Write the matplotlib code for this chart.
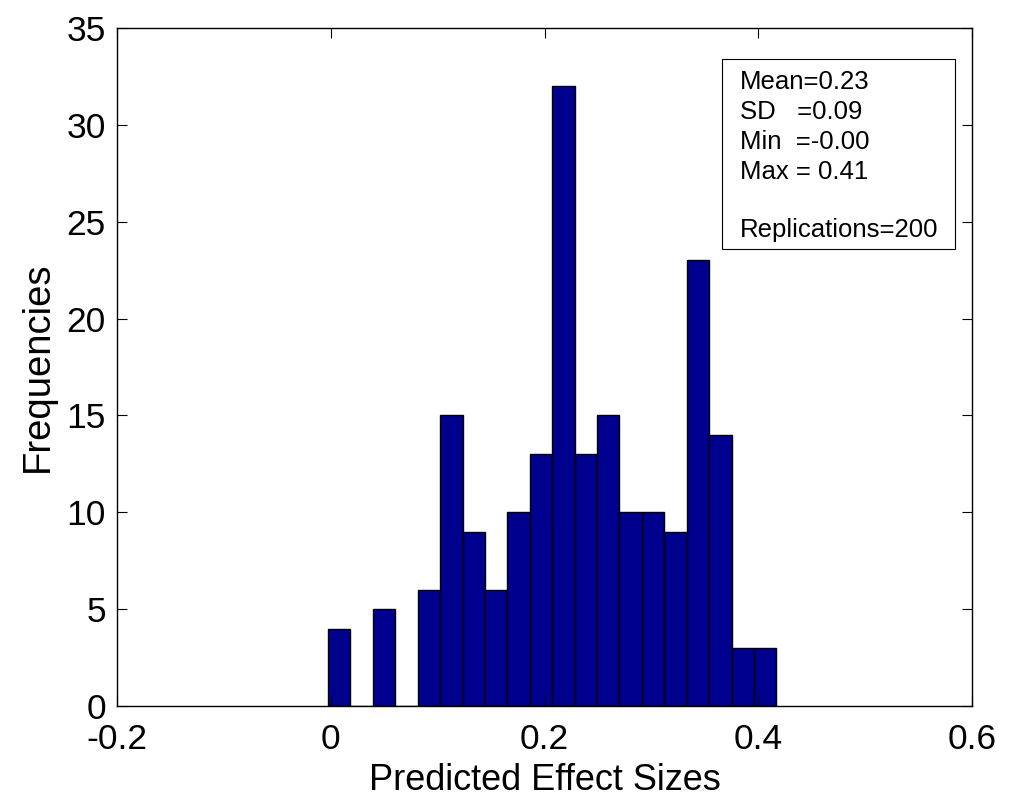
import numpy as np
import matplotlib.pyplot as plt
from matplotlib.patches import Rectangle

plt.rcParams['font.family'] = ['Liberation Sans', 'DejaVu Sans']

# histogram counts (20 bins)
counts = [4, 0, 5, 0, 6, 15, 9, 6, 10, 13, 32, 13, 15, 10, 10, 9, 23, 14, 3, 3]
bin_lo = -0.0025
bin_hi = 0.4170
stats_lines = ['Mean=0.23', 'SD   =0.09', 'Min  =-0.00', 'Max = 0.41', '', 'Replications=200']

edges = np.linspace(bin_lo, bin_hi, len(counts) + 1)
centers = (edges[:-1] + edges[1:]) / 2
width = edges[1] - edges[0]

fig = plt.figure(figsize=(10.16, 7.97), dpi=100)
ax = fig.add_axes([117/1016, 1 - 706/797, (972-117)/1016, (706-28)/797])

ax.bar(centers, counts, width=width, color='#00008F', edgecolor='black', linewidth=1.0)

ax.set_xlim(-0.2, 0.6)
ax.set_ylim(0, 35)
ax.set_xticks([-0.2, 0, 0.2, 0.4, 0.6])
ax.set_xticklabels(['-0.2', '0', '0.2', '0.4', '0.6'])
ax.set_yticks(range(0, 36, 5))
ax.tick_params(direction='in', length=7, width=0.8, top=True, right=True, labelsize=25.5)
ax.tick_params(axis='x', pad=12)
ax.tick_params(axis='y', pad=8)
for s in ax.spines.values():
    s.set_linewidth(1.0)

ax.set_xlabel('Predicted Effect Sizes', fontsize=26, labelpad=5)
ax.set_ylabel('Frequencies', fontsize=27.5, labelpad=8)

# stats box
ax.add_patch(Rectangle((0.708, 0.674), 0.272, 0.280, transform=ax.transAxes,
                       facecolor='white', edgecolor='black', linewidth=0.8, zorder=5))
ys = [0.920, 0.876, 0.832, 0.788, 0.745, 0.702]
for y, t in zip(ys, stats_lines):
    ax.text(0.729, y, t, transform=ax.transAxes, fontsize=18.5, va='center', ha='left', zorder=6)

fig.savefig('out.png', dpi=100)
